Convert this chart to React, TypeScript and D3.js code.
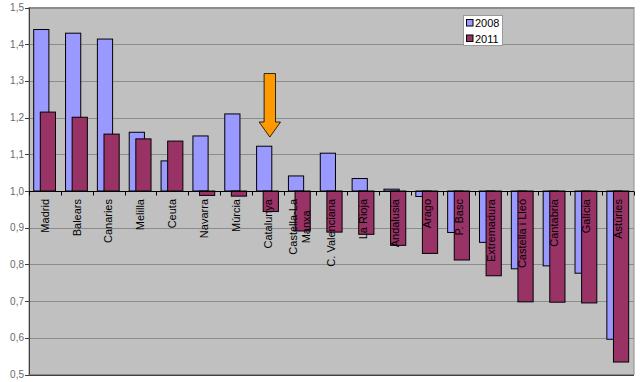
import React, { useEffect, useRef } from "react";
import * as d3 from "d3";

const regions = [
  "Madrid", "Balears", "Canaries", "Melilla", "Ceuta", "Navarra", "Múrcia",
  "Catalunya", "Castella-La Manxa", "C. Valenciana", "La Rioja", "Andalusia",
  "Arago", "P. Basc", "Extremadura", "Castella i Lleó", "Cantabria", "Galícia", "Astúries",
];
const values2008 = [1.44, 1.43, 1.414, 1.16, 1.082, 1.15, 1.21, 1.122, 1.041, 1.103, 1.034, 1.005, 0.985, 0.887, 0.86, 0.788, 0.796, 0.776, 0.596];
const values2011 = [1.215, 1.201, 1.155, 1.142, 1.136, 0.988, 0.986, 0.944, 0.891, 0.888, 0.882, 0.852, 0.83, 0.812, 0.769, 0.698, 0.697, 0.695, 0.534];
const yTicks = [0.5, 0.6, 0.7, 0.8, 0.9, 1.0, 1.1, 1.2, 1.3, 1.4, 1.5];
const seriesNames = ["2008", "2011"];
const seriesColors = ["#9999FF", "#993366"];
const labelLines: Record<string, string[]> = { "Castella-La Manxa": ["Castella-La", "Manxa"] };
const arrowFrom = 1.32;
const arrowHeadStart = 1.188;
const arrowTip = 1.147;

const W = 640, H = 382;
const left = 29, right = 634, top = 7.5, bottom = 374.5;

export default function App() {
  const ref = useRef<SVGSVGElement>(null);
  useEffect(() => {
    const svg = d3.select(ref.current);
    svg.selectAll("*").remove();
    const x = d3.scaleBand<string>().domain(regions).range([left, right]).padding(0);
    const y = d3.scaleLinear().domain([0.5, 1.5]).range([bottom, top]);
    const bw = x.bandwidth();

    svg.append("rect").attr("x", 0).attr("y", 0).attr("width", W).attr("height", H).attr("fill", "#fff");
    svg.append("rect").attr("x", left).attr("y", top).attr("width", right - left).attr("height", bottom - top)
      .attr("fill", "#C0C0C0").attr("stroke", "#8c8c8c").attr("stroke-width", 1);

    // grid
    svg.append("g").selectAll("line").data(yTicks).join("line")
      .attr("x1", left).attr("x2", right)
      .attr("y1", d => Math.round(y(d)) + 0.5).attr("y2", d => Math.round(y(d)) + 0.5)
      .attr("stroke", "#8c8c8c").attr("stroke-width", 1);

    // y axis
    const ya = svg.append("g");
    ya.append("line").attr("x1", left + 0.5).attr("x2", left + 0.5).attr("y1", top).attr("y2", bottom)
      .attr("stroke", "#404040");
    ya.append("line").attr("x1", left).attr("x2", right).attr("y1", Math.round(bottom) + 0.5).attr("y2", Math.round(bottom) + 0.5)
      .attr("stroke", "#404040");
    ya.selectAll("line.t").data(yTicks).join("line").attr("class", "t")
      .attr("x1", left - 4).attr("x2", left)
      .attr("y1", d => Math.round(y(d)) + 0.5).attr("y2", d => Math.round(y(d)) + 0.5)
      .attr("stroke", "#404040");
    ya.selectAll("text").data(yTicks).join("text")
      .attr("x", left - 5).attr("y", d => y(d)).attr("dy", "0.35em")
      .attr("text-anchor", "end").attr("font-family", "Liberation Sans, Arial, sans-serif")
      .attr("font-size", 10).attr("fill", "#6a6a6a")
      .text(d => d.toFixed(1).replace(".", ","));

    // bars
    const base = y(1.0);
    const g = svg.append("g");
    regions.forEach((r, i) => {
      const x0 = x(r)!;
      const vals = [values2008[i], values2011[i]];
      const offs = [4.7, 11.3];
      vals.forEach((v, s) => {
        const yv = y(v);
        g.append("rect")
          .attr("x", x0 + offs[s]).attr("width", 15.2)
          .attr("y", Math.min(yv, base)).attr("height", Math.max(Math.abs(yv - base), 0.5))
          .attr("fill", seriesColors[s]).attr("stroke", "#000").attr("stroke-width", 1);
      });
    });

    // x axis at 1.0
    const xa = svg.append("g");
    const by = Math.round(base) + 0.5;
    xa.append("line").attr("x1", left).attr("x2", right).attr("y1", by).attr("y2", by).attr("stroke", "#000");
    xa.selectAll("line.t").data(d3.range(regions.length + 1)).join("line").attr("class", "t")
      .attr("x1", d => Math.round(left + d * bw) + 0.5).attr("x2", d => Math.round(left + d * bw) + 0.5)
      .attr("y1", by).attr("y2", by + 4).attr("stroke", "#000");

    // labels
    regions.forEach((r) => {
      const cx = x(r)! + bw / 2;
      const lines = labelLines[r] || [r];
      const t = xa.append("text")
        .attr("transform", `translate(${cx},199) rotate(-90)`)
        .attr("font-family", "Liberation Sans, Arial, sans-serif").attr("font-size", 11).attr("fill", "#000");
      if (lines.length === 1) {
        t.attr("text-anchor", "end").attr("dy", "0.35em").text(r);
      } else {
        const spans = lines.map((l, k) => t.append("tspan").attr("x", 0)
          .attr("y", (k - (lines.length - 1) / 2) * 13.3).attr("dy", "0.35em").text(l));
        let maxW = 0;
        spans.forEach(sp => { maxW = Math.max(maxW, (sp.node() as SVGTextContentElement).getComputedTextLength()); });
        t.attr("text-anchor", "middle");
        spans.forEach(sp => sp.attr("x", -maxW / 2));
      }
    });

    // arrow annotation
    const ax = x("Catalunya")! + bw / 2 + 2;
    const y0 = y(arrowFrom), y1 = y(arrowHeadStart), y2 = y(arrowTip);
    const pts: [number, number][] = [
      [ax - 5.7, y0], [ax + 5.7, y0], [ax + 5.7, y1], [ax + 10.7, y1], [ax, y2], [ax - 10.7, y1], [ax - 5.7, y1],
    ];
    svg.append("polygon").attr("points", pts.map(p => p.join(",")).join(" "))
      .attr("fill", "#FF9900").attr("stroke", "#000").attr("stroke-width", 0.8);

    // legend
    const lg = svg.append("g");
    lg.append("rect").attr("x", 463.5).attr("y", 15.5).attr("width", 39).attr("height", 30)
      .attr("fill", "#fff").attr("stroke", "#9a9a9a");
    seriesNames.forEach((n, s) => {
      const ly = 23 + s * 15.5;
      lg.append("rect").attr("x", 466.5).attr("y", ly - 3.5).attr("width", 6.5).attr("height", 6.5)
        .attr("fill", seriesColors[s]).attr("stroke", "#000");
      lg.append("text").attr("x", 475).attr("y", ly).attr("dy", "0.37em")
        .attr("font-family", "Liberation Sans, Arial, sans-serif").attr("font-size", 11).attr("fill", "#000").text(n);
    });
  }, []);
  return <svg ref={ref} width={W} height={H} style={{ position: "absolute", left: 0, top: 0, display: "block" }} />;
}
